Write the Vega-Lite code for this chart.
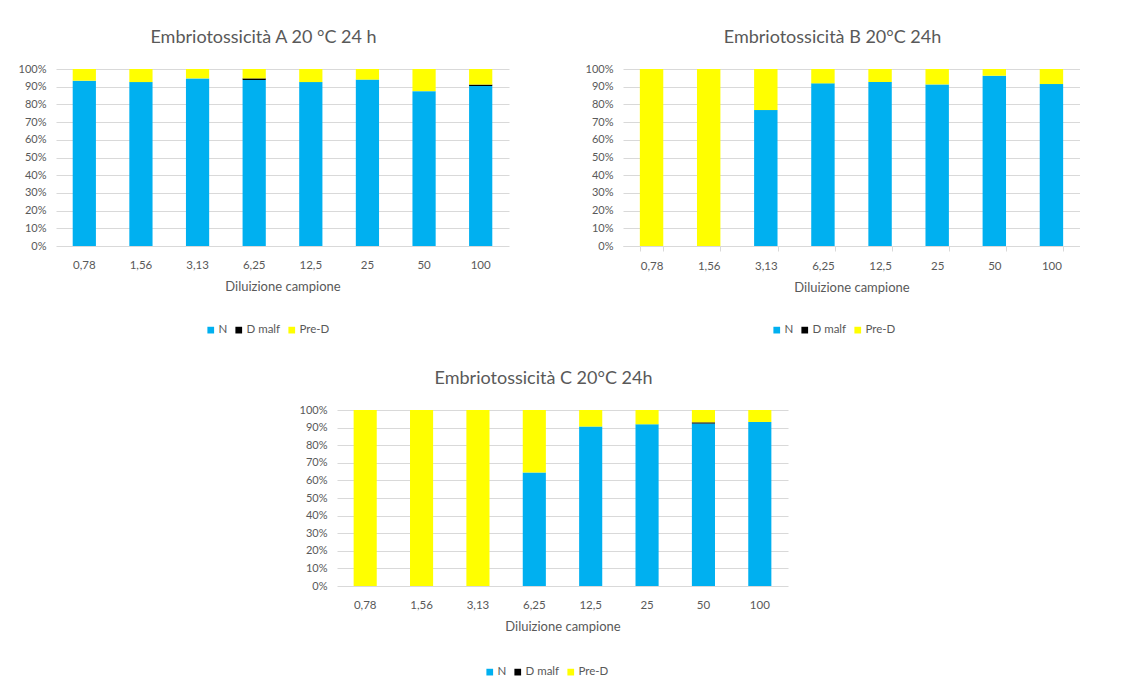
{
  "$schema": "https://vega.github.io/schema/vega-lite/v6.json",
  "background": "white",
  "padding": {"left": 18, "top": 29, "right": 0, "bottom": 0},
  "config": {
    "font": "Lato",
    "view": {"stroke": null},
    "title": {"fontSize": 18, "fontWeight": "normal", "color": "#595959", "frame": "bounds", "anchor": "middle", "offset": 16},
    "axis": {"labelColor": "#595959", "titleColor": "#595959", "labelFontSize": 11, "titleFontSize": 13, "titleFontWeight": "normal", "gridColor": "#D9D9D9", "domainColor": "#D9D9D9", "tickColor": "#D9D9D9"},
    "axisX": {"labelFontSize": 11.5},
    "legend": {"title": null, "orient": "none", "direction": "horizontal", "legendX": 151, "legendY": 255, "symbolType": "square", "symbolSize": 45, "symbolStrokeWidth": 0, "labelFontSize": 11.5, "labelColor": "#595959", "labelOffset": 2, "columnPadding": 5}
  },
  "data": {"values": [
    {"p": "A", "dil": "0,78", "cat": "N", "v": 0.934}, {"p": "A", "dil": "0,78", "cat": "D malf", "v": 0}, {"p": "A", "dil": "0,78", "cat": "Pre-D", "v": 0.066},
    {"p": "A", "dil": "1,56", "cat": "N", "v": 0.926}, {"p": "A", "dil": "1,56", "cat": "D malf", "v": 0}, {"p": "A", "dil": "1,56", "cat": "Pre-D", "v": 0.074},
    {"p": "A", "dil": "3,13", "cat": "N", "v": 0.947}, {"p": "A", "dil": "3,13", "cat": "D malf", "v": 0}, {"p": "A", "dil": "3,13", "cat": "Pre-D", "v": 0.053},
    {"p": "A", "dil": "6,25", "cat": "N", "v": 0.938}, {"p": "A", "dil": "6,25", "cat": "D malf", "v": 0.009}, {"p": "A", "dil": "6,25", "cat": "Pre-D", "v": 0.053},
    {"p": "A", "dil": "12,5", "cat": "N", "v": 0.926}, {"p": "A", "dil": "12,5", "cat": "D malf", "v": 0}, {"p": "A", "dil": "12,5", "cat": "Pre-D", "v": 0.074},
    {"p": "A", "dil": "25", "cat": "N", "v": 0.94}, {"p": "A", "dil": "25", "cat": "D malf", "v": 0}, {"p": "A", "dil": "25", "cat": "Pre-D", "v": 0.06},
    {"p": "A", "dil": "50", "cat": "N", "v": 0.875}, {"p": "A", "dil": "50", "cat": "D malf", "v": 0}, {"p": "A", "dil": "50", "cat": "Pre-D", "v": 0.125},
    {"p": "A", "dil": "100", "cat": "N", "v": 0.904}, {"p": "A", "dil": "100", "cat": "D malf", "v": 0.008}, {"p": "A", "dil": "100", "cat": "Pre-D", "v": 0.088},
    {"p": "B", "dil": "0,78", "cat": "N", "v": 0}, {"p": "B", "dil": "0,78", "cat": "D malf", "v": 0}, {"p": "B", "dil": "0,78", "cat": "Pre-D", "v": 1},
    {"p": "B", "dil": "1,56", "cat": "N", "v": 0}, {"p": "B", "dil": "1,56", "cat": "D malf", "v": 0}, {"p": "B", "dil": "1,56", "cat": "Pre-D", "v": 1},
    {"p": "B", "dil": "3,13", "cat": "N", "v": 0.768}, {"p": "B", "dil": "3,13", "cat": "D malf", "v": 0}, {"p": "B", "dil": "3,13", "cat": "Pre-D", "v": 0.232},
    {"p": "B", "dil": "6,25", "cat": "N", "v": 0.919}, {"p": "B", "dil": "6,25", "cat": "D malf", "v": 0}, {"p": "B", "dil": "6,25", "cat": "Pre-D", "v": 0.081},
    {"p": "B", "dil": "12,5", "cat": "N", "v": 0.926}, {"p": "B", "dil": "12,5", "cat": "D malf", "v": 0}, {"p": "B", "dil": "12,5", "cat": "Pre-D", "v": 0.074},
    {"p": "B", "dil": "25", "cat": "N", "v": 0.913}, {"p": "B", "dil": "25", "cat": "D malf", "v": 0}, {"p": "B", "dil": "25", "cat": "Pre-D", "v": 0.087},
    {"p": "B", "dil": "50", "cat": "N", "v": 0.962}, {"p": "B", "dil": "50", "cat": "D malf", "v": 0}, {"p": "B", "dil": "50", "cat": "Pre-D", "v": 0.038},
    {"p": "B", "dil": "100", "cat": "N", "v": 0.915}, {"p": "B", "dil": "100", "cat": "D malf", "v": 0}, {"p": "B", "dil": "100", "cat": "Pre-D", "v": 0.085},
    {"p": "C", "dil": "0,78", "cat": "N", "v": 0}, {"p": "C", "dil": "0,78", "cat": "D malf", "v": 0}, {"p": "C", "dil": "0,78", "cat": "Pre-D", "v": 1},
    {"p": "C", "dil": "1,56", "cat": "N", "v": 0}, {"p": "C", "dil": "1,56", "cat": "D malf", "v": 0}, {"p": "C", "dil": "1,56", "cat": "Pre-D", "v": 1},
    {"p": "C", "dil": "3,13", "cat": "N", "v": 0}, {"p": "C", "dil": "3,13", "cat": "D malf", "v": 0}, {"p": "C", "dil": "3,13", "cat": "Pre-D", "v": 1},
    {"p": "C", "dil": "6,25", "cat": "N", "v": 0.645}, {"p": "C", "dil": "6,25", "cat": "D malf", "v": 0}, {"p": "C", "dil": "6,25", "cat": "Pre-D", "v": 0.355},
    {"p": "C", "dil": "12,5", "cat": "N", "v": 0.906}, {"p": "C", "dil": "12,5", "cat": "D malf", "v": 0}, {"p": "C", "dil": "12,5", "cat": "Pre-D", "v": 0.094},
    {"p": "C", "dil": "25", "cat": "N", "v": 0.919}, {"p": "C", "dil": "25", "cat": "D malf", "v": 0}, {"p": "C", "dil": "25", "cat": "Pre-D", "v": 0.081},
    {"p": "C", "dil": "50", "cat": "N", "v": 0.923}, {"p": "C", "dil": "50", "cat": "D malf", "v": 0.007}, {"p": "C", "dil": "50", "cat": "Pre-D", "v": 0.07},
    {"p": "C", "dil": "100", "cat": "N", "v": 0.932}, {"p": "C", "dil": "100", "cat": "D malf", "v": 0}, {"p": "C", "dil": "100", "cat": "Pre-D", "v": 0.068}
  ]},
  "transform": [{"calculate": "indexof(['N', 'D malf', 'Pre-D'], datum.cat)", "as": "stackRank"}],
  "vconcat": [
    {
      "hconcat": [
        {
          "title": "Embriotossicità A 20 °C 24 h",
          "transform": [{"filter": "datum.p === 'A'"}],
          "width": 453, "height": 177,
          "mark": {"type": "bar"},
          "encoding": {
            "x": {"field": "dil", "type": "nominal", "sort": ["0,78", "1,56", "3,13", "6,25", "12,5", "25", "50", "100"], "scale": {"paddingInner": 0.59, "paddingOuter": 0.295}, "axis": {"title": "Diluizione campione", "labelAngle": 0, "ticks": false, "domain": false, "labelPadding": 13, "titlePadding": 10}},
            "y": {"field": "v", "type": "quantitative", "stack": "normalize", "scale": {"domain": [0, 1]}, "axis": {"title": null, "format": ".0%", "values": [0, 0.1, 0.2, 0.3, 0.4, 0.5, 0.6, 0.7, 0.8, 0.9, 1], "ticks": false, "domain": false, "labelPadding": 10}},
            "order": {"field": "stackRank", "type": "quantitative", "sort": "ascending"},
            "color": {"field": "cat", "type": "nominal", "scale": {"domain": ["N", "D malf", "Pre-D"], "range": ["#00B0F0", "#000000", "#FFFF00"]}, "legend": {"legendX": 149, "legendY": 255}}
          }
        },
        {
          "title": "Embriotossicità B 20°C 24h",
          "transform": [{"filter": "datum.p === 'B'"}],
          "width": 457, "height": 177,
          "mark": {"type": "bar"},
          "encoding": {
            "x": {"field": "dil", "type": "nominal", "sort": ["0,78", "1,56", "3,13", "6,25", "12,5", "25", "50", "100"], "scale": {"paddingInner": 0.59, "paddingOuter": 0.295}, "axis": {"title": "Diluizione campione", "labelAngle": 0, "ticks": true, "tickBand": "extent", "tickSize": 5, "domain": true, "labelPadding": 9, "titlePadding": 10}},
            "y": {"field": "v", "type": "quantitative", "stack": "normalize", "scale": {"domain": [0, 1]}, "axis": {"title": null, "format": ".0%", "values": [0, 0.1, 0.2, 0.3, 0.4, 0.5, 0.6, 0.7, 0.8, 0.9, 1], "ticks": false, "domain": false, "labelPadding": 10}},
            "order": {"field": "stackRank", "type": "quantitative", "sort": "ascending"},
            "color": {"field": "cat", "type": "nominal", "scale": {"domain": ["N", "D malf", "Pre-D"], "range": ["#00B0F0", "#000000", "#FFFF00"]}, "legend": {"legendX": 148, "legendY": 255}}
          }
        }
      ],
      "spacing": 76,
      "resolve": {"legend": {"color": "independent"}}
    },
    {
      "hconcat": [
        {
          "width": 243, "height": 10,
          "data": {"values": []},
          "mark": {"type": "rule"},
          "encoding": {}
        },
        {
          "title": "Embriotossicità C 20°C 24h",
          "transform": [{"filter": "datum.p === 'C'"}],
          "width": 451, "height": 176,
          "mark": {"type": "bar"},
          "encoding": {
            "x": {"field": "dil", "type": "nominal", "sort": ["0,78", "1,56", "3,13", "6,25", "12,5", "25", "50", "100"], "scale": {"paddingInner": 0.59, "paddingOuter": 0.295}, "axis": {"title": "Diluizione campione", "labelAngle": 0, "ticks": false, "domain": false, "labelPadding": 13, "titlePadding": 10}},
            "y": {"field": "v", "type": "quantitative", "stack": "normalize", "scale": {"domain": [0, 1]}, "axis": {"title": null, "format": ".0%", "values": [0, 0.1, 0.2, 0.3, 0.4, 0.5, 0.6, 0.7, 0.8, 0.9, 1], "ticks": false, "domain": false, "labelPadding": 10}},
            "order": {"field": "stackRank", "type": "quantitative", "sort": "ascending"},
            "color": {"field": "cat", "type": "nominal", "scale": {"domain": ["N", "D malf", "Pre-D"], "range": ["#00B0F0", "#000000", "#FFFF00"]}, "legend": {"legendX": 147, "legendY": 256}}
          }
        }
      ],
      "spacing": 0,
      "resolve": {"legend": {"color": "independent"}}
    }
  ],
  "spacing": 34,
  "resolve": {"legend": {"color": "independent"}}
}
